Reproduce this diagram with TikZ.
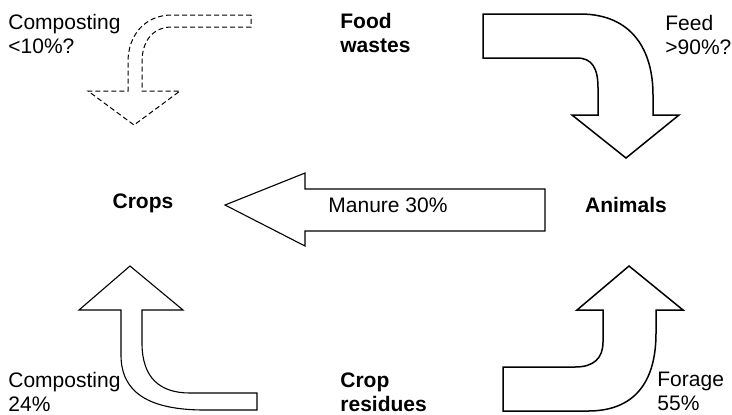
\documentclass[tikz,border=0pt]{standalone}
\usepackage{fontspec}
\setmainfont{Liberation Sans}
\usetikzlibrary{positioning}
\tikzset{
  blockarrow/.style={
    draw=black,
    fill=white,
    line width=0.75pt,
    line join=miter
  },
  thinarrow/.style={
    blockarrow,
    line width=0.55pt
  },
  dashedarrow/.style={
    blockarrow,
    line width=0.5pt,
    dash pattern=on 2.5pt off 1.5pt
  },
  poolnode/.style={
    font=\fontsize{10.5}{12}\selectfont\bfseries,
    inner sep=0pt
  },
  flowlabel/.style={
    font=\fontsize{10.5}{12}\selectfont,
    align=left,
    inner sep=0pt,
    anchor=north west
  }
}

\begin{document}
\begin{tikzpicture}[x=0.5pt, y=-0.5pt]
  \useasboundingbox (0,0) rectangle (732,414);

  % pools
  \node[poolnode] (crops) at (143,203) {Crops};
  \node[poolnode] (animals) at (626,205) {Animals};
  \node[flowlabel, font=\fontsize{10.5}{12}\selectfont\bfseries] (foodwastes) at (340,13) {Food\\wastes};
  \node[flowlabel, font=\fontsize{10.5}{12}\selectfont\bfseries] (cropresidues) at (340,372) {Crop\\residues};

  % composting of food wastes (dashed)
  \draw[dashedarrow] (251,15) -- (172,15) .. controls (145,15) and (128,35) .. (128,62)
    -- (128,91) -- (88,91) -- (134,125) -- (180,91) -- (142,91) -- (142,62)
    .. controls (142,42) and (152,27) .. (172,27) -- (251,27) -- cycle;

  % feed
  \draw[blockarrow] (483,14) -- (580,14) .. controls (632,14) and (653,50) .. (653,95)
    -- (653,115) -- (679,115) -- (626,158) -- (572,115) -- (598,115) -- (598,88)
    .. controls (598,68) and (592,58) .. (577,58) -- (483,58) -- cycle;

  % manure
  \draw[thinarrow] (545,189) -- (305,189) -- (305,173) -- (225,205) -- (305,246)
    -- (305,231) -- (545,231) -- cycle;
  \node[font=\fontsize{10.5}{12}\selectfont, inner sep=0pt] (manure) at (388,205) {Manure 30\%};

  % composting of crop residues
  \draw[thinarrow] (130,266) -- (183,310) -- (142,310) -- (142,343)
    .. controls (142,378) and (160,393) .. (190,393) -- (257,393) -- (257,410)
    -- (205,410) .. controls (148,410) and (121,392) .. (121,355) -- (121,310)
    -- (79,310) -- cycle;

  % forage
  \draw[blockarrow] (629,266) -- (683,310) -- (656,310) -- (656,333)
    .. controls (656,385) and (632,411) .. (588,411) -- (503,411) -- (503,367)
    -- (575,367) .. controls (594,367) and (603,358) .. (603,342) -- (603,310)
    -- (577,310) -- cycle;

  % flow labels
  \node[flowlabel] (compfood) at (8,14) {Composting\\<10\%?};
  \node[flowlabel] (feed) at (665,15) {Feed\\>90\%?};
  \node[flowlabel] (compcrop) at (8,372) {Composting\\24\%};
  \node[flowlabel] (forage) at (657,372) {Forage\\55\%};
\end{tikzpicture}
\end{document}
